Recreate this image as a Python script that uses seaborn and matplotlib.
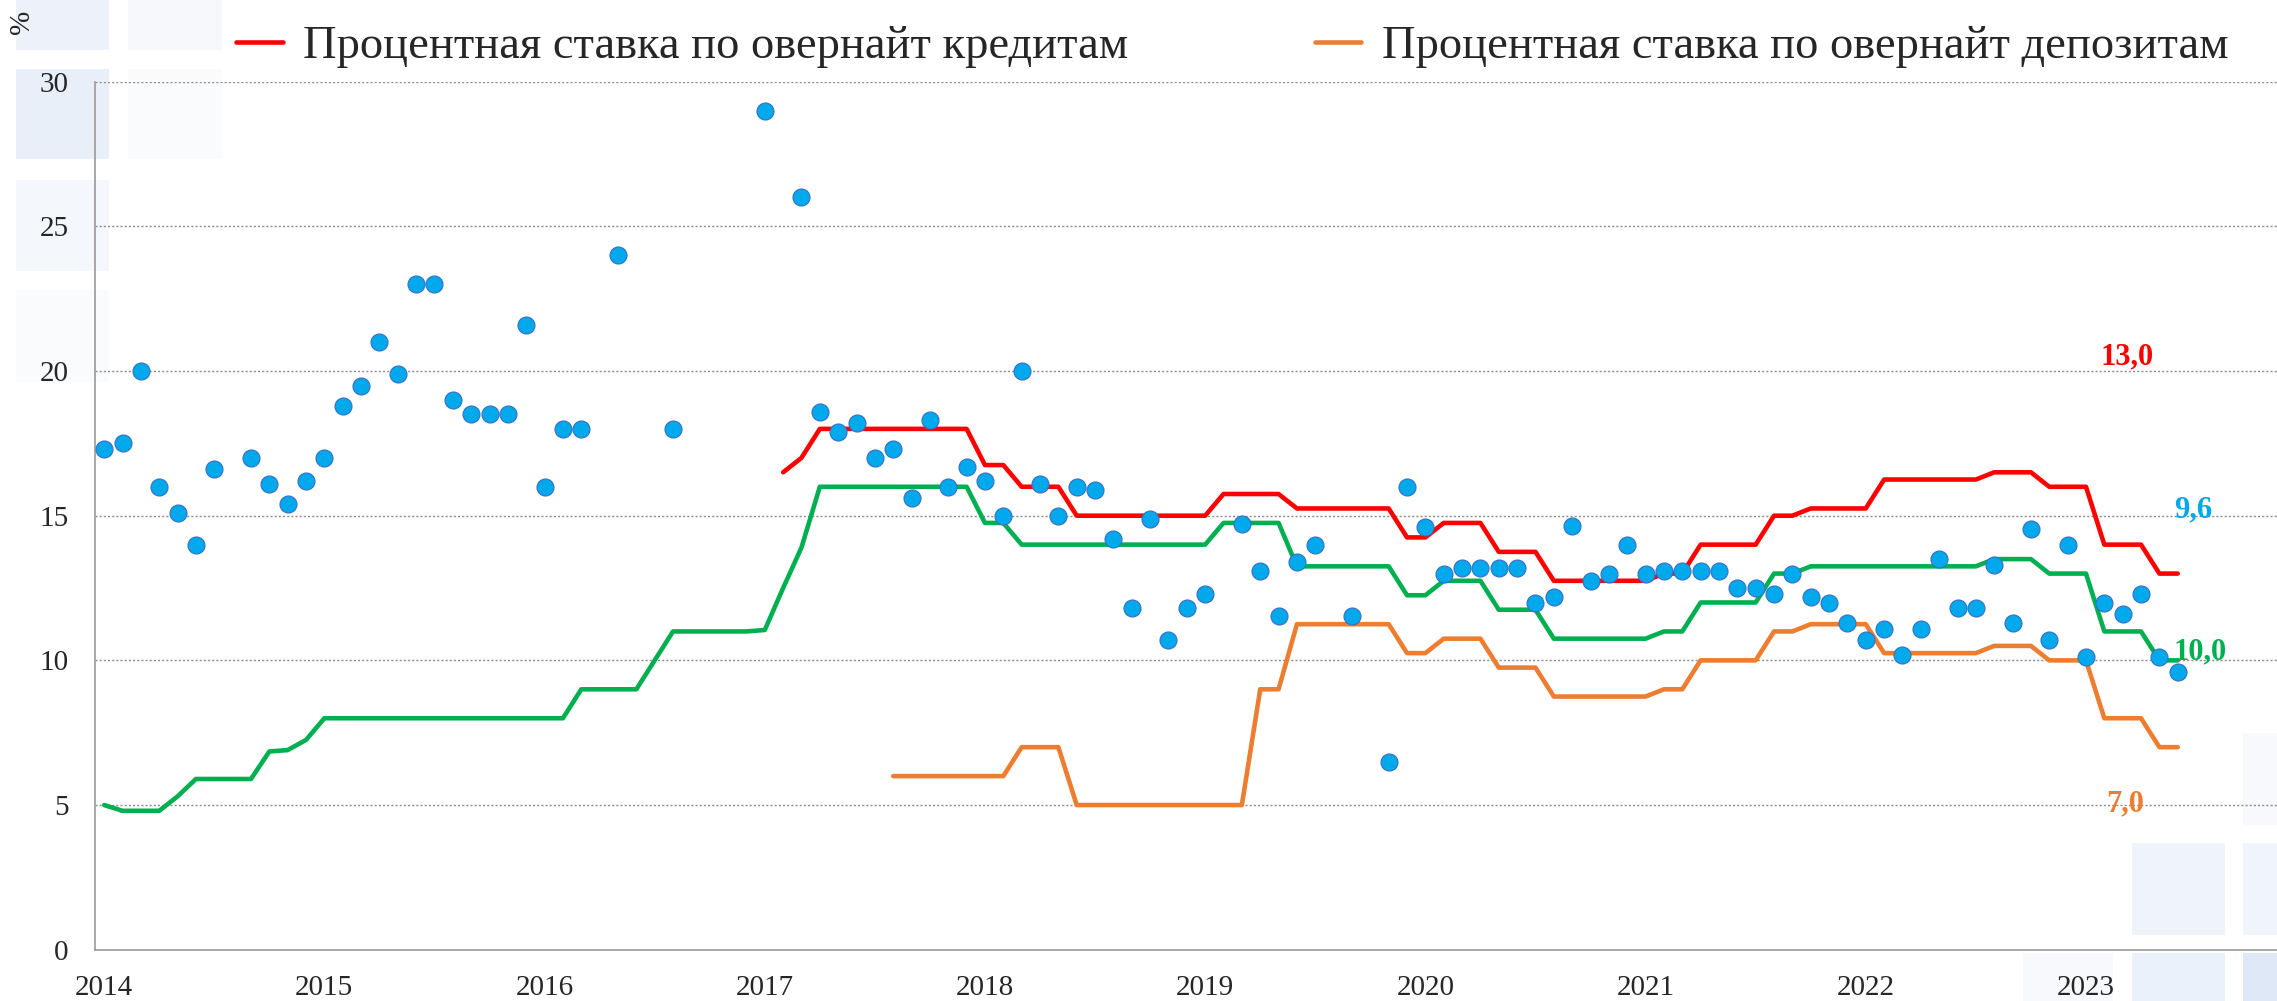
import numpy as np
import pandas as pd
import matplotlib
matplotlib.use("Agg")
import matplotlib.pyplot as plt
import seaborn as sns
from matplotlib.lines import Line2D
from matplotlib.patches import Rectangle

# monthly data, Jan 2014 = month 0
policy_rate = [
    5.0, 4.8, 4.8, 4.8, 5.3, 5.9, 5.9, 5.9, 5.9, 6.85, 6.9, 7.25,
    8.0, 8.0, 8.0, 8.0, 8.0, 8.0, 8.0, 8.0, 8.0, 8.0, 8.0, 8.0,
    8.0, 8.0, 9.0, 9.0, 9.0, 9.0, 10.0, 11.0, 11.0, 11.0, 11.0, 11.0,
    11.05, 12.5, 13.9, 16.0, 16.0, 16.0, 16.0, 16.0, 16.0, 16.0, 16.0, 16.0,
    14.75, 14.75, 14.0, 14.0, 14.0, 14.0, 14.0, 14.0, 14.0, 14.0, 14.0, 14.0,
    14.0, 14.75, 14.75, 14.75, 14.75, 13.25, 13.25, 13.25, 13.25, 13.25, 13.25, 12.25,
    12.25, 12.75, 12.75, 12.75, 11.75, 11.75, 11.75, 10.75, 10.75, 10.75, 10.75, 10.75,
    10.75, 11.0, 11.0, 12.0, 12.0, 12.0, 12.0, 13.0, 13.0, 13.25, 13.25, 13.25,
    13.25, 13.25, 13.25, 13.25, 13.25, 13.25, 13.25, 13.5, 13.5, 13.5, 13.0, 13.0,
    13.0, 11.0, 11.0, 11.0, 10.0, 10.0,
]

credit_start = 37  # Feb 2017
credit_rate = [
    16.5, 17.0, 18.0, 18.0, 18.0, 18.0, 18.0, 18.0, 18.0, 18.0, 18.0,
    16.75, 16.75, 16.0, 16.0, 16.0, 15.0, 15.0, 15.0, 15.0, 15.0, 15.0, 15.0,
    15.0, 15.75, 15.75, 15.75, 15.75, 15.25, 15.25, 15.25, 15.25, 15.25, 15.25, 14.25,
    14.25, 14.75, 14.75, 14.75, 13.75, 13.75, 13.75, 12.75, 12.75, 12.75, 12.75, 12.75,
    12.75, 13.0, 13.0, 14.0, 14.0, 14.0, 14.0, 15.0, 15.0, 15.25, 15.25, 15.25,
    15.25, 16.25, 16.25, 16.25, 16.25, 16.25, 16.25, 16.5, 16.5, 16.5, 16.0, 16.0,
    16.0, 14.0, 14.0, 14.0, 13.0, 13.0,
]

deposit_start = 43  # Aug 2017
deposit_rate = [
    6.0, 6.0, 6.0, 6.0, 6.0,
    6.0, 6.0, 7.0, 7.0, 7.0, 5.0, 5.0, 5.0, 5.0, 5.0, 5.0, 5.0,
    5.0, 5.0, 5.0, 9.0, 9.0, 11.25, 11.25, 11.25, 11.25, 11.25, 11.25, 10.25,
    10.25, 10.75, 10.75, 10.75, 9.75, 9.75, 9.75, 8.75, 8.75, 8.75, 8.75, 8.75,
    8.75, 9.0, 9.0, 10.0, 10.0, 10.0, 10.0, 11.0, 11.0, 11.25, 11.25, 11.25,
    11.25, 10.25, 10.25, 10.25, 10.25, 10.25, 10.25, 10.5, 10.5, 10.5, 10.0, 10.0,
    10.0, 8.0, 8.0, 8.0, 7.0, 7.0,
]

interbank_month = [
    0, 1, 2, 3, 4, 5, 6, 8, 9, 10, 11,
    12, 13, 14, 15, 16, 17, 18, 19, 20, 21, 22, 23,
    24, 25, 26, 28, 31,
    36, 38, 39, 40, 41, 42, 43, 44, 45, 46, 47,
    48, 49, 50, 51, 52, 53, 54, 55, 56, 57, 58, 59,
    60, 62, 63, 64, 65, 66, 68, 70, 71,
    72, 73, 74, 75, 76, 77, 78, 79, 80, 81, 82, 83,
    84, 85, 86, 87, 88, 89, 90, 91, 92, 93, 94, 95,
    96, 97, 98, 99, 100, 101, 102, 103, 104, 105, 106, 107,
    108, 109, 110, 111, 112, 113,
]
interbank_rate = [
    17.3, 17.5, 20.0, 16.0, 15.1, 14.0, 16.6, 17.0, 16.1, 15.4, 16.2,
    17.0, 18.8, 19.5, 21.0, 19.9, 23.0, 23.0, 19.0, 18.5, 18.5, 18.5, 21.6,
    16.0, 18.0, 18.0, 24.0, 18.0,
    29.0, 26.0, 18.6, 17.9, 18.2, 17.0, 17.3, 15.6, 18.3, 16.0, 16.7,
    16.2, 15.0, 20.0, 16.1, 15.0, 16.0, 15.9, 14.2, 11.8, 14.9, 10.7, 11.8,
    12.3, 14.7, 13.1, 11.55, 13.4, 14.0, 11.55, 6.5, 16.0,
    14.6, 13.0, 13.2, 13.2, 13.2, 13.2, 12.0, 12.2, 14.65, 12.75, 13.0, 14.0,
    13.0, 13.1, 13.1, 13.1, 13.1, 12.5, 12.5, 12.3, 13.0, 12.2, 12.0, 11.3,
    10.7, 11.1, 10.2, 11.1, 13.5, 11.8, 11.8, 13.3, 11.3, 14.55, 10.7, 14.0,
    10.1, 12.0, 11.6, 12.3, 10.1, 9.6,
]

years = list(range(2014, 2024))
legend_labels = ["Процентная ставка по овернайт кредитам",
                 "Процентная ставка по овернайт депозитам"]


def month_pos(start, n):
    # mid-month position in decimal years
    return 2014 + (np.arange(start, start + n) + 0.5) / 12


policy_df = pd.DataFrame({"x": month_pos(0, len(policy_rate)), "y": policy_rate})
credit_df = pd.DataFrame({"x": month_pos(credit_start, len(credit_rate)), "y": credit_rate})
deposit_df = pd.DataFrame({"x": month_pos(deposit_start, len(deposit_rate)), "y": deposit_rate})
inter_df = pd.DataFrame({"x": 2014 + (np.array(interbank_month) + 0.5) / 12, "y": interbank_rate})

sns.set_theme(style="white")
plt.rcParams["font.family"] = ["Liberation Serif", "DejaVu Serif"]

RED, GREEN, ORANGE, BLUE = "#FF0000", "#00B050", "#ED7D31", "#00A8EC"
GRID = "#8C8C8C"
W, H = 2277, 1001

fig = plt.figure(figsize=(22.77, 10.01), dpi=100)

# faint decorative squares of the slide background
deco = [(16, 0, 93, 50, 0.25), (128, 0, 94, 50, 0.12), (16, 69, 93, 90, 0.3), (128, 69, 94, 90, 0.08),
        (16, 180, 93, 91, 0.15), (16, 290, 93, 92, 0.07),
        (2132, 843, 93, 92, 0.22), (2243, 843, 34, 92, 0.2), (2132, 953, 93, 48, 0.28),
        (2243, 953, 34, 48, 0.45), (2023, 953, 90, 48, 0.1), (2243, 733, 34, 92, 0.1)]
for x0, y0, w, h, a in deco:
    fig.patches.append(Rectangle((x0 / W, 1 - (y0 + h) / H), w / W, h / H,
                                 transform=fig.transFigure, color="#B8CDEE", alpha=a,
                                 linewidth=0, zorder=0))

ax = fig.add_axes([95 / W, 1 - 949.7 / H, 1 - 95 / W, 868 / H])
ax.set_zorder(2)
ax.set_facecolor("none")

sns.lineplot(data=policy_df, x="x", y="y", color=GREEN, linewidth=3.3, ax=ax)
sns.lineplot(data=credit_df, x="x", y="y", color=RED, linewidth=3.3, ax=ax)
sns.lineplot(data=deposit_df, x="x", y="y", color=ORANGE, linewidth=3.3, ax=ax)
sns.scatterplot(data=inter_df, x="x", y="y", color=BLUE, s=150,
                edgecolor="#3A6FC4", linewidth=0.8, zorder=5, ax=ax)

ax.set_xlim(2014, 2014 + (W - 95) / 220.2)
ax.set_ylim(0, 30)
ax.set_xlabel("")
ax.set_ylabel("")

# y axis
ax.set_yticks(range(0, 31, 5))
ax.set_yticklabels([str(v) for v in range(0, 31, 5)])
for v in range(5, 31, 5):
    ax.axhline(v, color=GRID, linewidth=1.0, linestyle=(0, (1.5, 1.5)), zorder=0)
ax.tick_params(axis="y", length=7, color=GRID, width=1, pad=12, labelsize=21)

# x axis: ticks at year boundaries, labels at January
ax.set_xticks(years)
ax.set_xticklabels([])
ax.set_xticks([y + 0.5 / 12 for y in years], minor=True)
ax.set_xticklabels([str(y) for y in years], minor=True)
ax.tick_params(axis="x", which="major", length=7, color=GRID, width=1)
ax.tick_params(axis="x", which="minor", length=0, pad=18, labelsize=21)

for side in ["top", "right"]:
    ax.spines[side].set_visible(False)
for side in ["left", "bottom"]:
    ax.spines[side].set_color("#999999")
    ax.spines[side].set_linewidth(1.2)

# value labels at the end
ax.text(2023.23, 20.5, "13,0", color=RED, fontsize=22, fontweight="bold", ha="center", va="center")
ax.text(2023.53, 15.2, "9,6", color=BLUE, fontsize=22, fontweight="bold", ha="center", va="center")
ax.text(2023.56, 10.3, "10,0", color=GREEN, fontsize=22, fontweight="bold", ha="center", va="center")
ax.text(2023.22, 5.05, "7,0", color=ORANGE, fontsize=22, fontweight="bold", ha="center", va="center")

fig.text(22 / W, 1 - 22 / H, "%", rotation=90, fontsize=21, ha="center", va="center", zorder=3)

handles = [Line2D([], [], color=RED, linewidth=3.3),
           Line2D([], [], color=ORANGE, linewidth=3.3)]
fig.legend(handles, legend_labels, loc="center left", bbox_to_anchor=(236 / W, 1 - 47 / H),
           ncol=2, frameon=False, fontsize=33.5, handlelength=1.0, handletextpad=0.45,
           columnspacing=4.0, borderpad=0, borderaxespad=0)

fig.savefig("out.png", dpi=100)
